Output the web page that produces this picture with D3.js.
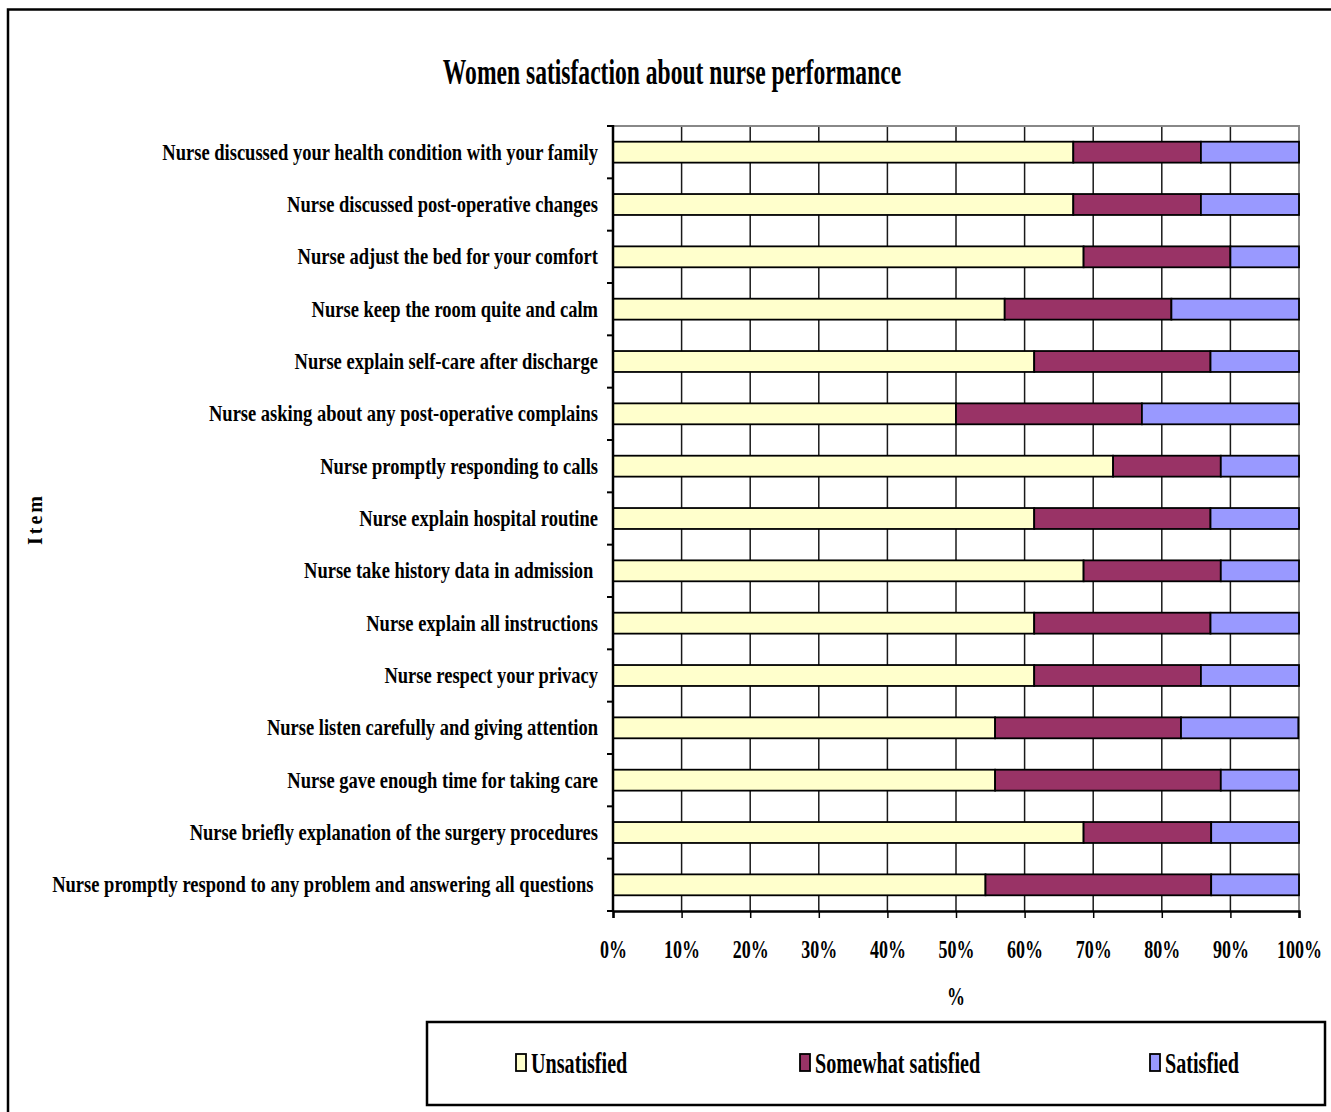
<!DOCTYPE html>
<html>
<head>
<meta charset="utf-8">
<script src="https://cdn.jsdelivr.net/npm/d3@7"></script>
<style>
  html, body { margin: 0; padding: 0; background: #fff; }
  svg { display: block; }
  text { font-family: "Liberation Serif", "Times New Roman", serif; font-weight: bold; fill: #000; white-space: pre; }
</style>
</head>
<body>
<svg id="chart" width="1331" height="1112"></svg>
<script>
// Survey items, listed top to bottom
const items = [
  "Nurse discussed your health condition with your family",
  "Nurse discussed post-operative changes",
  "Nurse adjust the bed for your comfort",
  "Nurse keep the room quite and calm",
  "Nurse explain self-care after discharge",
  "Nurse asking about any post-operative complains",
  "Nurse promptly responding to calls",
  "Nurse explain hospital routine",
  "Nurse take history data in admission ",
  "Nurse explain all instructions",
  "Nurse respect your privacy",
  "Nurse listen carefully and giving attention",
  "Nurse gave enough time for taking care",
  "Nurse briefly explanation of the surgery procedures",
  "Nurse promptly respond to any problem and answering all questions "
];

// Percent of women per satisfaction level
const unsatisfied = [67.1, 67.1, 68.6, 57.1, 61.4, 50.0, 72.9, 61.4, 68.6, 61.4, 61.4, 55.7, 55.7, 68.6, 54.3];
const somewhat    = [18.6, 18.6, 21.4, 24.3, 25.7, 27.1, 15.7, 25.7, 20.0, 25.7, 24.3, 27.1, 32.9, 18.6, 32.9];
const satisfied   = [14.3, 14.3, 10.0, 18.6, 12.9, 22.9, 11.4, 12.9, 11.4, 12.9, 14.3, 17.1, 11.4, 12.9, 12.9];

const seriesNames = ["Unsatisfied", "Somewhat satisfied", "Satisfied"];
const seriesColors = ["#FFFFCC", "#993366", "#9999FF"];
const xTicks = [0, 10, 20, 30, 40, 50, 60, 70, 80, 90, 100];

const svg = d3.select("#chart");

// page background and outer frame
svg.append("rect").attr("width", 1331).attr("height", 1112).attr("fill", "#fff");
svg.append("rect")
  .attr("x", 8).attr("y", 9.5).attr("width", 1400).attr("height", 1200)
  .attr("fill", "none").attr("stroke", "#000").attr("stroke-width", 2.5);

const plot = { left: 613, right: 1299, top: 126, bottom: 911 };

const x = d3.scaleLinear().domain([0, 100]).range([plot.left, plot.right]);
const y = d3.scaleBand().domain(items).range([plot.top, plot.bottom])
  .paddingInner(0.6).paddingOuter(0.3);

// condensed bold text helper
function ctext(g, str, px, py, size, sx, anchor) {
  return g.append("text")
    .attr("transform", `translate(${px},${py}) scale(${sx},1)`)
    .attr("text-anchor", anchor)
    .attr("font-size", size)
    .text(str);
}

// title
ctext(svg, "Women satisfaction about nurse performance", 672, 84, 36, 0.655, "middle");

// vertical gridlines
svg.append("g")
  .selectAll("line")
  .data(xTicks.slice(1, -1))
  .join("line")
  .attr("x1", d => x(d)).attr("x2", d => x(d))
  .attr("y1", plot.top).attr("y2", plot.bottom)
  .attr("stroke", "#1a1a1a").attr("stroke-width", 1.5);

// plot area border (top and right)
svg.append("path")
  .attr("d", `M${plot.left},${plot.top}H${plot.right}V${plot.bottom}`)
  .attr("fill", "none").attr("stroke", "#888").attr("stroke-width", 2);

// stacked bars
const rows = items.map((name, i) => ({ name, values: [unsatisfied[i], somewhat[i], satisfied[i]] }));
const stack = d3.stack().keys([0, 1, 2]).value((d, k) => d.values[k]);
const layers = stack(rows);

svg.append("g")
  .selectAll("g")
  .data(layers)
  .join("g")
  .attr("fill", (d, i) => seriesColors[i])
  .selectAll("rect")
  .data(d => d)
  .join("rect")
  .attr("x", d => x(d[0]))
  .attr("width", d => x(Math.min(100, d[1])) - x(d[0]))
  .attr("y", d => y(d.data.name))
  .attr("height", y.bandwidth())
  .attr("stroke", "#000").attr("stroke-width", 1.8);

// x axis
const xAxis = svg.append("g").attr("transform", `translate(0,${plot.bottom})`)
  .call(d3.axisBottom(x).tickValues(xTicks).tickSize(7).tickFormat(d => d + "%"));
xAxis.select(".domain").attr("stroke", "#000").attr("stroke-width", 2.5);
xAxis.selectAll(".tick line").attr("stroke", "#000").attr("stroke-width", 1.5);
xAxis.selectAll(".tick text").remove();
xAxis.selectAll(".tick").each(function (d) {
  ctext(d3.select(this), d + "%", 0, 47, 25, 0.72, "middle");
});

// x axis title
ctext(svg, "%", x(50), 1005, 25, 0.72, "middle");

// y axis with ticks at category boundaries
const step = y.step();
const boundaries = d3.range(items.length + 1).map(i => plot.top + i * step);
svg.append("g").selectAll("line")
  .data(boundaries)
  .join("line")
  .attr("x1", plot.left - 6).attr("x2", plot.left)
  .attr("y1", d => d).attr("y2", d => d)
  .attr("stroke", "#000").attr("stroke-width", 2);
svg.append("line")
  .attr("x1", plot.left).attr("x2", plot.left)
  .attr("y1", plot.top - 1).attr("y2", plot.bottom + 1)
  .attr("stroke", "#000").attr("stroke-width", 2.5);

// category labels
const labels = svg.append("g");
items.forEach(name => {
  ctext(labels, name, 598, y(name) + y.bandwidth() / 2 + 7.5, 23, 0.805, "end");
});

// y axis title
svg.append("text")
  .attr("transform", "translate(42,519) rotate(-90)")
  .attr("text-anchor", "middle")
  .attr("font-size", 20)
  .attr("letter-spacing", 3)
  .text("Item");

// legend
const legend = svg.append("g");
legend.append("rect")
  .attr("x", 427).attr("y", 1022).attr("width", 898).attr("height", 83)
  .attr("fill", "#fff").attr("stroke", "#000").attr("stroke-width", 2.5);
const legendX = [516, 800, 1150];
seriesNames.forEach((name, i) => {
  legend.append("rect")
    .attr("x", legendX[i]).attr("y", 1054).attr("width", 10).attr("height", 17)
    .attr("fill", seriesColors[i]).attr("stroke", "#000").attr("stroke-width", 1.8);
  ctext(legend, name, legendX[i] + 15, 1073, 29, 0.695, "start");
});
</script>
</body>
</html>
